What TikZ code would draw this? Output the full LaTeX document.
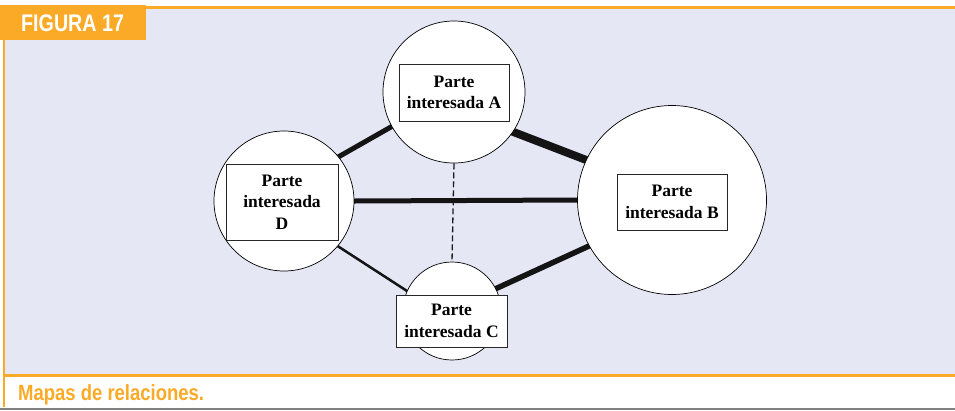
\documentclass[tikz,border=0pt]{standalone}
\usepackage{fontspec}
\setmainfont{Liberation Serif}
\newfontfamily\headfont[FakeStretch=0.82]{Liberation Sans}
\newfontfamily\capfont[FakeStretch=0.84]{Liberation Sans}
\definecolor{figorange}{RGB}{250,170,38}
\definecolor{panel}{RGB}{229,231,245}
\definecolor{rulegrey}{RGB}{128,128,128}
\pgfdeclarelayer{bg}
\pgfdeclarelayer{links}
\pgfsetlayers{bg,links,main}
\tikzset{
  party/.style={circle, draw=black, line width=0.7pt, fill=white, inner sep=0pt},
  labelbox/.style={draw=black!85, line width=0.8pt, fill=white, align=center,
    inner sep=0pt, font=\fontsize{17.5}{21.5}\selectfont\bfseries},
  tie/.style={line width=#1, draw=black!92, shorten <=-4pt, shorten >=-4pt},
  weak tie/.style={line width=1.3pt, draw=black!90, dash pattern=on 6pt off 3pt},
}
\begin{document}
\begin{tikzpicture}[x=1pt,y=-1pt]
\useasboundingbox (0,0) rectangle (955,410);

% frame: tab, panel, rules
\begin{pgfonlayer}{bg}
  \fill[panel] (5,7) rectangle (955,375);
  \fill[figorange] (145,6) rectangle (955,8.5);
  \fill[figorange] (0,5) rectangle (146,40);
  \fill[figorange] (3,40) rectangle (5,407);
  \fill[figorange] (3,374) rectangle (955,376.5);
  \fill[rulegrey] (0,407.5) rectangle (955,410);
\end{pgfonlayer}

\node[anchor=base west, inner sep=0, text=white,
  font=\headfont\fontsize{24}{24}\selectfont\bfseries] (fig) at (21,31) {FIGURA 17};
\node[anchor=base west, inner sep=0, text=figorange,
  font=\capfont\fontsize{22}{22}\selectfont\bfseries] (cap) at (18,400) {Mapas de relaciones.};

% stakeholders
\node[party, minimum size=142] (A) at (454,92) {};
\node[party, minimum size=189] (B) at (672,200) {};
\node[party, minimum size=140] (D) at (284,201) {};
\node[party, minimum size=98]  (C) at (452,311) {};

\node[labelbox, minimum width=110, minimum height=57] (boxA) at (454,92.5) {Parte\\interesada A};
\node[labelbox, minimum width=110, minimum height=56] (boxB) at (672,202) {Parte\\interesada B};
\node[labelbox, minimum width=112, minimum height=76] (boxD) at (282,202) {Parte\\interesada\\D};
\node[labelbox, minimum width=111, minimum height=52] (boxC) at (451.5,321) {Parte\\interesada C};

% relationships, line width = strength
\begin{pgfonlayer}{links}
  \draw[tie=5pt]   (A.209) -- (D.39);
  \draw[tie=8pt]   (A.-34) -- (B.155);
  \draw[tie=5pt]   (D.0) -- (B.180);
  \draw[tie=2.5pt] (D.-40) -- (C.156);
  \draw[tie=5.5pt] (C.27.5) -- (B.209);
  \draw[weak tie]  (A.south) -- (C.north);
\end{pgfonlayer}
\end{tikzpicture}
\end{document}
